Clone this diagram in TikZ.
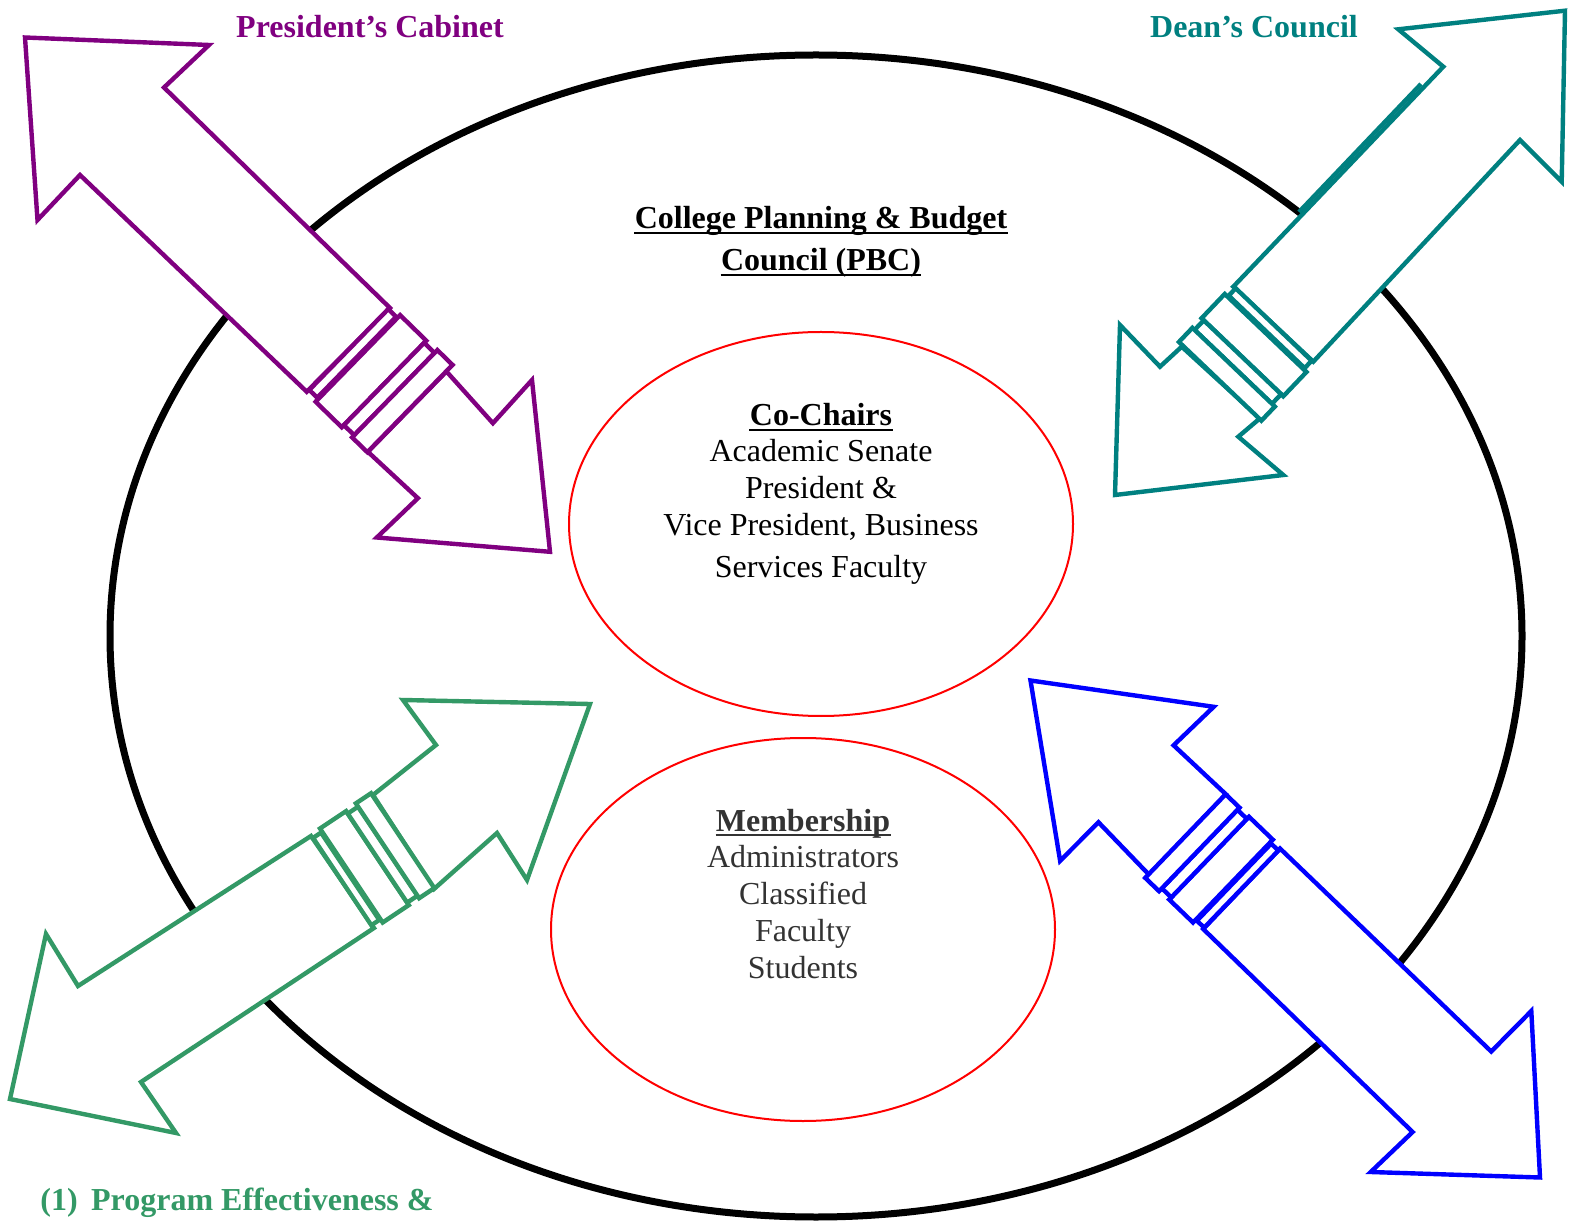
\documentclass[tikz,border=0pt]{standalone}
\usepackage{fontspec}
\setmainfont{Liberation Serif}
\usetikzlibrary{calc}
\definecolor{purp}{HTML}{800080}
\definecolor{tealc}{HTML}{008080}
\definecolor{grn}{HTML}{339966}
\definecolor{blu}{HTML}{0000FF}
\definecolor{redc}{HTML}{FF0000}
\definecolor{memgray}{HTML}{333333}
\newcommand\jointrects[2]{%
  \draw[arr] (0,{-#1+2}) rectangle ({0.13*#2},{#1-3});
  \draw[arr] ({0.15*#2},{-#1-2}) rectangle ({0.58*#2},{#1+1});
  \draw[arr] ({0.58*#2},{-#1+1}) rectangle ({0.75*#2},{#1-2});
  \draw[arr] ({0.75*#2},{-#1-3}) rectangle (#2,{#1+1});
}
\begin{document}
\begin{tikzpicture}[x=0.5pt,y=-0.5pt,
  arr/.style={line width=2.2pt, fill=white, line join=miter},
  txt/.style={inner sep=0pt, font=\fontsize{16}{19}\selectfont},
  ul/.style={line width=1.3pt}]
\useasboundingbox (0,0) rectangle (1569,1224);
\fill[white] (0,0) rectangle (1569,1224);

% big council ellipse
\draw[line width=3.5pt] (816,636) ellipse [x radius=353pt, y radius=290.5pt];
% inner ellipses
\draw[redc, line width=1pt] (821,524) ellipse [x radius=126pt, y radius=96pt];
\draw[redc, line width=1pt] (803,929.5) ellipse [x radius=126pt, y radius=95.75pt];

% ---- purple double arrow (President's Cabinet)
\begin{scope}[purp]
\draw[arr] (390,308) -- (164,87.5) -- (209,45) -- (25,37.5) -- (37.5,220) -- (80,175) -- (306.7,391.7) -- cycle;
\draw[arr] (446.4,371.4) -- (492.9,423.2) -- (532,380) -- (550,551.8) -- (376.8,537.5) -- (417.9,498.2) -- (367.9,451.8) -- cycle;
\begin{scope}[shift={(348.4,349.9)}, rotate=-44.3]
\jointrects{59}{85}
\end{scope}
\end{scope}

% ---- teal double arrow (Dean's Council)
\begin{scope}[tealc]
\draw[arr] (1233.3,286.7) -- (1443.3,66.7) -- (1398.3,29.3) -- (1565,10.7) -- (1561.7,181.7) -- (1520,140) -- (1313.3,361.7) -- cycle;
\draw[line width=2.2pt] (1299,212) -- (1421,84);
\draw[arr] (1181.7,346.7) -- (1160,366.7) -- (1120,325) -- (1115,495) -- (1283.3,475) -- (1238.3,436.7) -- (1260,418.3) -- cycle;
\begin{scope}[shift={(1273.3,324.2)}, rotate=-133.67]
\jointrects{55}{78}
\end{scope}
\end{scope}

% ---- green double arrow (Program Effectiveness)
\begin{scope}[grn]
\draw[arr] (311,836) -- (78,986) -- (46,934) -- (10,1099) -- (176,1133) -- (141,1082) -- (374,928) -- cycle;
\draw[arr] (373,795) -- (436,745) -- (403,700) -- (590,704) -- (527,880) -- (497,833) -- (434,889) -- cycle;
\begin{scope}[shift={(342.5,882)}, rotate=33.7]
\jointrects{55}{73}
\end{scope}
\end{scope}

% ---- blue double arrow
\begin{scope}[blu]
\draw[arr] (1280,848.5) -- (1491.2,1051.5) -- (1531.3,1011) -- (1540,1177.5) -- (1370.7,1172) -- (1412.6,1132) -- (1203.2,929) -- cycle;
\draw[arr] (1225.9,794.3) -- (1173.6,745.3) -- (1213.7,706.8) -- (1030.5,680.5) -- (1060.1,860.8) -- (1098.5,822.3) -- (1149.1,874.8) -- cycle;
\begin{scope}[shift={(1241.6,888.75)}, rotate=136.1]
\jointrects{56}{77}
\end{scope}
\end{scope}

% ---- labels
\node[txt, anchor=base, text=purp] (pres) at (370,38) {\bfseries President’s Cabinet};
\node[txt, anchor=base, text=tealc] (dean) at (1254,38) {\bfseries Dean’s Council};
\node[txt, anchor=base west, text=grn] (prog) at (40,1210) {\bfseries (1)\hspace{0.42em}Program Effectiveness \&};

\node[txt, anchor=base] (t1) at (821,229) {\bfseries College Planning \& Budget};
\node[txt, anchor=base] (t2) at (821,271) {\bfseries Council (PBC)};
\draw[ul] ($(t1.base west)+(0,4)$) -- ($(t1.base east)+(0,4)$);
\draw[ul] ($(t2.base west)+(0,4)$) -- ($(t2.base east)+(0,4)$);

\node[txt, anchor=base] (c0) at (821,426) {\bfseries Co-Chairs};
\draw[ul] ($(c0.base west)+(0,4)$) -- ($(c0.base east)+(0,4)$);
\node[txt, anchor=base] (c1) at (821,462) {Academic Senate};
\node[txt, anchor=base] (c2) at (821,499) {President \&};
\node[txt, anchor=base] (c3) at (821,536) {Vice President, Business};
\node[txt, anchor=base] (c4) at (821,578) {Services Faculty};

\node[txt, anchor=base, text=memgray] (m0) at (803,831) {\bfseries Membership};
\draw[ul, memgray] ($(m0.base west)+(0,4)$) -- ($(m0.base east)+(0,4)$);
\node[txt, anchor=base, text=memgray] (m1) at (803,867) {Administrators};
\node[txt, anchor=base, text=memgray] (m2) at (803,904) {Classified};
\node[txt, anchor=base, text=memgray] (m3) at (803,941) {Faculty};
\node[txt, anchor=base, text=memgray] (m4) at (803,978) {Students};
\end{tikzpicture}
\end{document}
